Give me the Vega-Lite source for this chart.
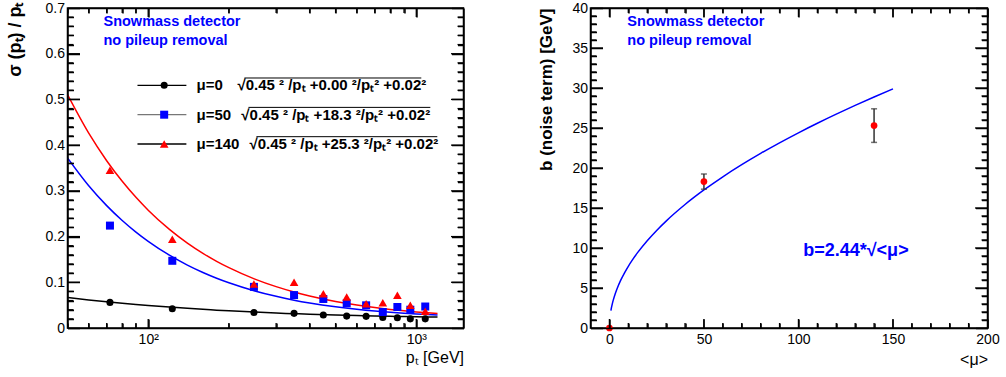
{
  "$schema": "https://vega.github.io/schema/vega-lite/v6.json",
  "background": "white",
  "padding": {"left": 5.5, "top": 0, "right": 0, "bottom": 0},
  "spacing": 71,
  "datasets": {
    "left_points": [
      {"pt": 72, "v": 0.056, "mu": "0"}, {"pt": 123, "v": 0.042, "mu": "0"}, {"pt": 248, "v": 0.034, "mu": "0"},
      {"pt": 350, "v": 0.032, "mu": "0"}, {"pt": 450, "v": 0.0285, "mu": "0"}, {"pt": 550, "v": 0.026, "mu": "0"},
      {"pt": 650, "v": 0.0255, "mu": "0"}, {"pt": 750, "v": 0.023, "mu": "0"}, {"pt": 850, "v": 0.0225, "mu": "0"},
      {"pt": 950, "v": 0.02, "mu": "0"}, {"pt": 1080, "v": 0.02, "mu": "0"},
      {"pt": 72, "v": 0.224, "mu": "50"}, {"pt": 123, "v": 0.147, "mu": "50"}, {"pt": 248, "v": 0.09, "mu": "50"},
      {"pt": 350, "v": 0.072, "mu": "50"}, {"pt": 450, "v": 0.0635, "mu": "50"}, {"pt": 550, "v": 0.054, "mu": "50"},
      {"pt": 650, "v": 0.0496, "mu": "50"}, {"pt": 750, "v": 0.035, "mu": "50"}, {"pt": 850, "v": 0.046, "mu": "50"},
      {"pt": 950, "v": 0.04, "mu": "50"}, {"pt": 1080, "v": 0.047, "mu": "50"},
      {"pt": 72, "v": 0.345, "mu": "140"}, {"pt": 123, "v": 0.194, "mu": "140"}, {"pt": 248, "v": 0.096, "mu": "140"},
      {"pt": 350, "v": 0.1, "mu": "140"}, {"pt": 450, "v": 0.075, "mu": "140"}, {"pt": 550, "v": 0.068, "mu": "140"},
      {"pt": 650, "v": 0.053, "mu": "140"}, {"pt": 750, "v": 0.055, "mu": "140"}, {"pt": 850, "v": 0.0715, "mu": "140"},
      {"pt": 950, "v": 0.0496, "mu": "140"}, {"pt": 1080, "v": 0.0365, "mu": "140"}
    ],
    "left_curves": [
      {"pt": 50, "v": 0.06671, "mu": "0"}, {"pt": 60, "v": 0.06144, "mu": "0"}, {"pt": 70, "v": 0.05738, "mu": "0"},
      {"pt": 80, "v": 0.05414, "mu": "0"}, {"pt": 90, "v": 0.05148, "mu": "0"}, {"pt": 100, "v": 0.04924, "mu": "0"},
      {"pt": 120, "v": 0.04569, "mu": "0"}, {"pt": 140, "v": 0.04297, "mu": "0"}, {"pt": 160, "v": 0.04081, "mu": "0"},
      {"pt": 180, "v": 0.03905, "mu": "0"}, {"pt": 200, "v": 0.03758, "mu": "0"}, {"pt": 250, "v": 0.03479, "mu": "0"},
      {"pt": 300, "v": 0.03279, "mu": "0"}, {"pt": 350, "v": 0.03128, "mu": "0"}, {"pt": 400, "v": 0.0301, "mu": "0"},
      {"pt": 500, "v": 0.02837, "mu": "0"}, {"pt": 600, "v": 0.02716, "mu": "0"}, {"pt": 700, "v": 0.02625, "mu": "0"},
      {"pt": 800, "v": 0.02556, "mu": "0"}, {"pt": 900, "v": 0.025, "mu": "0"}, {"pt": 1000, "v": 0.02455, "mu": "0"},
      {"pt": 1100, "v": 0.02417, "mu": "0"}, {"pt": 1200, "v": 0.02385, "mu": "0"},
      {"pt": 50, "v": 0.37203, "mu": "50"}, {"pt": 60, "v": 0.31113, "mu": "50"}, {"pt": 70, "v": 0.26765, "mu": "50"},
      {"pt": 80, "v": 0.23507, "mu": "50"}, {"pt": 90, "v": 0.20975, "mu": "50"}, {"pt": 100, "v": 0.18951, "mu": "50"},
      {"pt": 120, "v": 0.1592, "mu": "50"}, {"pt": 140, "v": 0.1376, "mu": "50"}, {"pt": 160, "v": 0.12144, "mu": "50"},
      {"pt": 180, "v": 0.10891, "mu": "50"}, {"pt": 200, "v": 0.09892, "mu": "50"}, {"pt": 250, "v": 0.08104, "mu": "50"},
      {"pt": 300, "v": 0.06925, "mu": "50"}, {"pt": 350, "v": 0.06093, "mu": "50"}, {"pt": 400, "v": 0.05477, "mu": "50"},
      {"pt": 500, "v": 0.04631, "mu": "50"}, {"pt": 600, "v": 0.04084, "mu": "50"}, {"pt": 700, "v": 0.03705, "mu": "50"},
      {"pt": 800, "v": 0.0343, "mu": "50"}, {"pt": 900, "v": 0.03222, "mu": "50"}, {"pt": 1000, "v": 0.03062, "mu": "50"},
      {"pt": 1100, "v": 0.02934, "mu": "50"}, {"pt": 1200, "v": 0.02831, "mu": "50"},
      {"pt": 50, "v": 0.51038, "mu": "140"}, {"pt": 60, "v": 0.42612, "mu": "140"}, {"pt": 70, "v": 0.36596, "mu": "140"},
      {"pt": 80, "v": 0.32085, "mu": "140"}, {"pt": 90, "v": 0.28579, "mu": "140"}, {"pt": 100, "v": 0.25775, "mu": "140"},
      {"pt": 120, "v": 0.21573, "mu": "140"}, {"pt": 140, "v": 0.18575, "mu": "140"}, {"pt": 160, "v": 0.16331, "mu": "140"},
      {"pt": 180, "v": 0.14588, "mu": "140"}, {"pt": 200, "v": 0.13196, "mu": "140"}, {"pt": 250, "v": 0.10701, "mu": "140"},
      {"pt": 300, "v": 0.09048, "mu": "140"}, {"pt": 350, "v": 0.07876, "mu": "140"}, {"pt": 400, "v": 0.07005, "mu": "140"},
      {"pt": 500, "v": 0.05801, "mu": "140"}, {"pt": 600, "v": 0.05015, "mu": "140"}, {"pt": 700, "v": 0.04467, "mu": "140"},
      {"pt": 800, "v": 0.04066, "mu": "140"}, {"pt": 900, "v": 0.03762, "mu": "140"}, {"pt": 1000, "v": 0.03525, "mu": "140"},
      {"pt": 1100, "v": 0.03336, "mu": "140"}, {"pt": 1200, "v": 0.03183, "mu": "140"}
    ],
    "left_xt": [
      {"t": 60, "major": false}, {"t": 70, "major": false}, {"t": 80, "major": false}, {"t": 90, "major": false},
      {"t": 100, "major": true}, {"t": 200, "major": false}, {"t": 300, "major": false}, {"t": 400, "major": false},
      {"t": 500, "major": false}, {"t": 600, "major": false}, {"t": 700, "major": false}, {"t": 800, "major": false},
      {"t": 900, "major": false}, {"t": 1000, "major": true}
    ],
    "left_yt": [
      {"t": 0.02, "major": false}, {"t": 0.04, "major": false}, {"t": 0.06, "major": false}, {"t": 0.08, "major": false}, {"t": 0.1, "major": true},
      {"t": 0.12, "major": false}, {"t": 0.14, "major": false}, {"t": 0.16, "major": false}, {"t": 0.18, "major": false}, {"t": 0.2, "major": true},
      {"t": 0.22, "major": false}, {"t": 0.24, "major": false}, {"t": 0.26, "major": false}, {"t": 0.28, "major": false}, {"t": 0.3, "major": true},
      {"t": 0.32, "major": false}, {"t": 0.34, "major": false}, {"t": 0.36, "major": false}, {"t": 0.38, "major": false}, {"t": 0.4, "major": true},
      {"t": 0.42, "major": false}, {"t": 0.44, "major": false}, {"t": 0.46, "major": false}, {"t": 0.48, "major": false}, {"t": 0.5, "major": true},
      {"t": 0.52, "major": false}, {"t": 0.54, "major": false}, {"t": 0.56, "major": false}, {"t": 0.58, "major": false}, {"t": 0.6, "major": true},
      {"t": 0.62, "major": false}, {"t": 0.64, "major": false}, {"t": 0.66, "major": false}, {"t": 0.68, "major": false}
    ],
    "right_xt": [
      {"t": 0, "major": true}, {"t": 10, "major": false}, {"t": 20, "major": false}, {"t": 30, "major": false}, {"t": 40, "major": false},
      {"t": 50, "major": true}, {"t": 60, "major": false}, {"t": 70, "major": false}, {"t": 80, "major": false}, {"t": 90, "major": false},
      {"t": 100, "major": true}, {"t": 110, "major": false}, {"t": 120, "major": false}, {"t": 130, "major": false}, {"t": 140, "major": false},
      {"t": 150, "major": true}, {"t": 160, "major": false}, {"t": 170, "major": false}, {"t": 180, "major": false}, {"t": 190, "major": false}
    ],
    "right_yt": [
      {"t": 1, "major": false}, {"t": 2, "major": false}, {"t": 3, "major": false}, {"t": 4, "major": false}, {"t": 5, "major": true},
      {"t": 6, "major": false}, {"t": 7, "major": false}, {"t": 8, "major": false}, {"t": 9, "major": false}, {"t": 10, "major": true},
      {"t": 11, "major": false}, {"t": 12, "major": false}, {"t": 13, "major": false}, {"t": 14, "major": false}, {"t": 15, "major": true},
      {"t": 16, "major": false}, {"t": 17, "major": false}, {"t": 18, "major": false}, {"t": 19, "major": false}, {"t": 20, "major": true},
      {"t": 21, "major": false}, {"t": 22, "major": false}, {"t": 23, "major": false}, {"t": 24, "major": false}, {"t": 25, "major": true},
      {"t": 26, "major": false}, {"t": 27, "major": false}, {"t": 28, "major": false}, {"t": 29, "major": false}, {"t": 30, "major": true},
      {"t": 31, "major": false}, {"t": 32, "major": false}, {"t": 33, "major": false}, {"t": 34, "major": false}, {"t": 35, "major": true},
      {"t": 36, "major": false}, {"t": 37, "major": false}, {"t": 38, "major": false}, {"t": 39, "major": false}
    ],
    "right_points": [
      {"mu": 0, "b": 0, "err": 0},
      {"mu": 50, "b": 18.3, "err": 0.95},
      {"mu": 140, "b": 25.3, "err": 2.1}
    ],
    "right_curve": [
      {"mu": 0.8, "b": 2.182}, {"mu": 1, "b": 2.44}, {"mu": 1.5, "b": 2.988}, {"mu": 2, "b": 3.451},
      {"mu": 3, "b": 4.226}, {"mu": 4, "b": 4.88}, {"mu": 6, "b": 5.977}, {"mu": 8, "b": 6.901},
      {"mu": 10, "b": 7.716}, {"mu": 12, "b": 8.452}, {"mu": 15, "b": 9.45}, {"mu": 20, "b": 10.912},
      {"mu": 25, "b": 12.2}, {"mu": 30, "b": 13.364}, {"mu": 40, "b": 15.432}, {"mu": 50, "b": 17.253},
      {"mu": 60, "b": 18.9}, {"mu": 70, "b": 20.414}, {"mu": 80, "b": 21.824}, {"mu": 90, "b": 23.148},
      {"mu": 100, "b": 24.4}, {"mu": 110, "b": 25.591}, {"mu": 120, "b": 26.729}, {"mu": 130, "b": 27.82},
      {"mu": 140, "b": 28.87}, {"mu": 150, "b": 29.884}
    ]
  },
  "hconcat": [
    {
      "width": 396,
      "height": 320,
      "layer": [
        {
          "data": {"name": "left_curves"},
          "mark": {"type": "line", "strokeWidth": 1.5, "interpolate": "monotone", "clip": true},
          "encoding": {
            "x": {
              "field": "pt", "type": "quantitative",
              "scale": {"type": "log", "domain": [50, 1500], "nice": false},
              "axis": {
                "orient": "bottom", "domain": true, "ticks": true, "zindex": 1,
                "domainColor": "#000000", "domainWidth": 1.5, "tickColor": "#000000", "tickWidth": 1.5,
                "values": [50, 60, 70, 80, 90, 100, 200, 300, 400, 500, 600, 700, 800, 900, 1000],
                "labelExpr": "datum.value == 100 ? '10²' : datum.value == 1000 ? '10³' : ''",
                "tickSize": {"condition": {"test": "datum.value == 100 || datum.value == 1000", "value": -9}, "value": -5},
                "labelPadding": 13,
                "title": "pₜ [GeV]",
                "titleX": 396, "titleY": 34, "titleAlign": "right", "titleBaseline": "alphabetic",
                "titleFontSize": 16, "titleFontWeight": "normal"
              }
            },
            "y": {
              "field": "v", "type": "quantitative",
              "scale": {"domain": [0, 0.7], "nice": false, "zero": false},
              "axis": {
                "orient": "left", "domain": true, "ticks": true, "zindex": 1,
                "domainColor": "#000000", "domainWidth": 1.5, "tickColor": "#000000", "tickWidth": 1.5,
                "values": [0, 0.02, 0.04, 0.06, 0.08, 0.1, 0.12, 0.14, 0.16, 0.18, 0.2, 0.22, 0.24, 0.26, 0.28, 0.3, 0.32, 0.34, 0.36, 0.38, 0.4, 0.42, 0.44, 0.46, 0.48, 0.5, 0.52, 0.54, 0.56, 0.58, 0.6, 0.62, 0.64, 0.66, 0.68, 0.7],
                "labelExpr": "abs(datum.value*10 - round(datum.value*10)) < 0.001 ? format(datum.value, '~g') : ''",
                "tickSize": {"condition": {"test": "abs(datum.value*10 - round(datum.value*10)) < 0.001", "value": -12}, "value": -6},
                "labelPadding": 15,
                "title": "σ (pₜ) / pₜ",
                "titleX": -52, "titleY": -6, "titleAngle": -90, "titleAlign": "right", "titleBaseline": "middle",
                "titleFontSize": 18, "titleFontWeight": "bold"
              }
            },
            "color": {
              "field": "mu", "type": "nominal",
              "scale": {"domain": ["0", "50", "140"], "range": ["#000000", "#0000ff", "#ff0000"]},
              "legend": null
            }
          }
        },
        {
          "data": {"name": "left_points"},
          "transform": [{"filter": "datum.mu == '0'"}],
          "mark": {"type": "point", "shape": "circle", "filled": true, "size": 50, "opacity": 1, "color": "#000000"},
          "encoding": {
            "x": {
              "field": "pt", "type": "quantitative",
              "axis": {
                "orient": "top", "labels": false, "title": null, "domain": true, "ticks": true, "zindex": 1,
                "domainColor": "#000000", "domainWidth": 1.5, "tickColor": "#000000", "tickWidth": 1.5,
                "values": [50, 60, 70, 80, 90, 100, 200, 300, 400, 500, 600, 700, 800, 900, 1000],
                "tickSize": {"condition": {"test": "datum.value == 100 || datum.value == 1000", "value": -9}, "value": -5}
              }
            },
            "y": {
              "field": "v", "type": "quantitative",
              "axis": {
                "orient": "right", "labels": false, "title": null, "domain": true, "ticks": true, "zindex": 1,
                "domainColor": "#000000", "domainWidth": 1.5, "tickColor": "#000000", "tickWidth": 1.5,
                "values": [0, 0.02, 0.04, 0.06, 0.08, 0.1, 0.12, 0.14, 0.16, 0.18, 0.2, 0.22, 0.24, 0.26, 0.28, 0.3, 0.32, 0.34, 0.36, 0.38, 0.4, 0.42, 0.44, 0.46, 0.48, 0.5, 0.52, 0.54, 0.56, 0.58, 0.6, 0.62, 0.64, 0.66, 0.68, 0.7],
                "tickSize": {"condition": {"test": "abs(datum.value*10 - round(datum.value*10)) < 0.001", "value": -12}, "value": -6}
              }
            }
          }
        },
        {
          "data": {"name": "left_points"},
          "transform": [{"filter": "datum.mu == '50'"}],
          "mark": {"type": "point", "shape": "square", "filled": true, "size": 64, "opacity": 1, "color": "#0000ff"},
          "encoding": {
            "x": {"field": "pt", "type": "quantitative", "axis": null},
            "y": {"field": "v", "type": "quantitative", "axis": null}
          }
        },
        {
          "data": {"name": "left_points"},
          "transform": [{"filter": "datum.mu == '140'"}],
          "mark": {"type": "point", "shape": "triangle-up", "filled": true, "size": 75, "opacity": 1, "color": "#ff0000"},
          "encoding": {
            "x": {"field": "pt", "type": "quantitative", "axis": null},
            "y": {"field": "v", "type": "quantitative", "axis": null}
          }
        },
        {
          "data": {"values": [{}]},
          "mark": {"type": "rule", "color": "#000000", "strokeWidth": 1.3},
          "encoding": {
            "x": {"datum": 91.2, "type": "quantitative", "axis": null},
            "x2": {"datum": 138.8},
            "y": {"datum": 0.5309, "type": "quantitative", "axis": null}
          }
        },
        {
          "data": {"values": [{}]},
          "mark": {"type": "rule", "color": "#777777", "strokeWidth": 1.3},
          "encoding": {
            "x": {"datum": 91.2, "type": "quantitative", "axis": null},
            "x2": {"datum": 138.8},
            "y": {"datum": 0.4666, "type": "quantitative", "axis": null}
          }
        },
        {
          "data": {"values": [{}]},
          "mark": {"type": "rule", "color": "#000000", "strokeWidth": 1.3},
          "encoding": {
            "x": {"datum": 91.2, "type": "quantitative", "axis": null},
            "x2": {"datum": 138.8},
            "y": {"datum": 0.4025, "type": "quantitative", "axis": null}
          }
        },
        {
          "data": {"values": [{}]},
          "mark": {"type": "point", "shape": "circle", "filled": true, "size": 50, "opacity": 1, "color": "#000000"},
          "encoding": {
            "x": {"datum": 114.7, "type": "quantitative", "axis": null},
            "y": {"datum": 0.5309, "type": "quantitative", "axis": null}
          }
        },
        {
          "data": {"values": [{}]},
          "mark": {"type": "point", "shape": "square", "filled": true, "size": 64, "opacity": 1, "color": "#0000ff"},
          "encoding": {
            "x": {"datum": 114.7, "type": "quantitative", "axis": null},
            "y": {"datum": 0.4666, "type": "quantitative", "axis": null}
          }
        },
        {
          "data": {"values": [{}]},
          "mark": {"type": "point", "shape": "triangle-up", "filled": true, "size": 75, "opacity": 1, "color": "#ff0000"},
          "encoding": {
            "x": {"datum": 114.7, "type": "quantitative", "axis": null},
            "y": {"datum": 0.4025, "type": "quantitative", "axis": null}
          }
        },
        {
          "data": {"values": [{}]},
          "mark": {"type": "text", "align": "left", "baseline": "middle", "font": "Liberation Sans", "fontSize": 15, "fontWeight": "bold", "color": "#000000", "text": "μ=0"},
          "encoding": {
            "x": {"datum": 151.4, "type": "quantitative", "axis": null},
            "y": {"datum": 0.5309, "type": "quantitative", "axis": null}
          }
        },
        {
          "data": {"values": [{}]},
          "mark": {"type": "text", "align": "left", "baseline": "middle", "font": "Liberation Sans", "fontSize": 15, "fontWeight": "bold", "color": "#000000", "text": "μ=50"},
          "encoding": {
            "x": {"datum": 151.4, "type": "quantitative", "axis": null},
            "y": {"datum": 0.4666, "type": "quantitative", "axis": null}
          }
        },
        {
          "data": {"values": [{}]},
          "mark": {"type": "text", "align": "left", "baseline": "middle", "font": "Liberation Sans", "fontSize": 15, "fontWeight": "bold", "color": "#000000", "text": "μ=140"},
          "encoding": {
            "x": {"datum": 151.4, "type": "quantitative", "axis": null},
            "y": {"datum": 0.4025, "type": "quantitative", "axis": null}
          }
        },
        {
          "data": {"values": [{}]},
          "mark": {"type": "text", "align": "left", "baseline": "middle", "font": "Liberation Sans", "fontSize": 15, "fontWeight": "bold", "color": "#000000", "text": "√0.45 ² /pₜ +0.00 ²/pₜ² +0.02²"},
          "encoding": {
            "x": {"datum": 215.2, "type": "quantitative", "axis": null},
            "y": {"datum": 0.5309, "type": "quantitative", "axis": null}
          }
        },
        {
          "data": {"values": [{}]},
          "mark": {"type": "text", "align": "left", "baseline": "middle", "font": "Liberation Sans", "fontSize": 15, "fontWeight": "bold", "color": "#000000", "text": "√0.45 ² /pₜ +18.3 ²/pₜ² +0.02²"},
          "encoding": {
            "x": {"datum": 222.6, "type": "quantitative", "axis": null},
            "y": {"datum": 0.4666, "type": "quantitative", "axis": null}
          }
        },
        {
          "data": {"values": [{}]},
          "mark": {"type": "text", "align": "left", "baseline": "middle", "font": "Liberation Sans", "fontSize": 15, "fontWeight": "bold", "color": "#000000", "text": "√0.45 ² /pₜ +25.3 ²/pₜ² +0.02²"},
          "encoding": {
            "x": {"datum": 238.6, "type": "quantitative", "axis": null},
            "y": {"datum": 0.4025, "type": "quantitative", "axis": null}
          }
        },
        {
          "data": {"values": [{}]},
          "mark": {"type": "rule", "color": "#000000", "strokeWidth": 1},
          "encoding": {
            "x": {"datum": 228.5, "type": "quantitative", "axis": null},
            "x2": {"datum": 1044},
            "y": {"datum": 0.5469, "type": "quantitative", "axis": null}
          }
        },
        {
          "data": {"values": [{}]},
          "mark": {"type": "rule", "color": "#000000", "strokeWidth": 1},
          "encoding": {
            "x": {"datum": 236.5, "type": "quantitative", "axis": null},
            "x2": {"datum": 1128},
            "y": {"datum": 0.4826, "type": "quantitative", "axis": null}
          }
        },
        {
          "data": {"values": [{}]},
          "mark": {"type": "rule", "color": "#000000", "strokeWidth": 1},
          "encoding": {
            "x": {"datum": 253.3, "type": "quantitative", "axis": null},
            "x2": {"datum": 1198},
            "y": {"datum": 0.4185, "type": "quantitative", "axis": null}
          }
        },
        {
          "data": {"values": [{}]},
          "mark": {"type": "text", "align": "left", "baseline": "alphabetic", "font": "Liberation Sans", "fontSize": 14.5, "fontWeight": "bold", "color": "#0000ff", "lineHeight": 19, "text": ["Snowmass detector", "no pileup removal"]},
          "encoding": {
            "x": {"datum": 68.1, "type": "quantitative", "axis": null},
            "y": {"datum": 0.6597, "type": "quantitative", "axis": null}
          }
        },
        {
          "data": {"name": "left_xt"},
          "transform": [{"filter": "datum.major"}],
          "mark": {"type": "rule", "color": "#000000", "strokeWidth": 1.3},
          "encoding": {
            "x": {"field": "t", "type": "quantitative", "axis": null},
            "y": {"datum": 0, "type": "quantitative", "axis": null},
            "y2": {"datum": 0.0197}
          }
        },
        {
          "data": {"name": "left_xt"},
          "transform": [{"filter": "!datum.major"}],
          "mark": {"type": "rule", "color": "#000000", "strokeWidth": 1.3},
          "encoding": {
            "x": {"field": "t", "type": "quantitative", "axis": null},
            "y": {"datum": 0, "type": "quantitative", "axis": null},
            "y2": {"datum": 0.0109}
          }
        },
        {
          "data": {"name": "left_xt"},
          "transform": [{"filter": "datum.major"}],
          "mark": {"type": "rule", "color": "#000000", "strokeWidth": 1.3},
          "encoding": {
            "x": {"field": "t", "type": "quantitative", "axis": null},
            "y": {"datum": 0.7, "type": "quantitative", "axis": null},
            "y2": {"datum": 0.6803}
          }
        },
        {
          "data": {"name": "left_xt"},
          "transform": [{"filter": "!datum.major"}],
          "mark": {"type": "rule", "color": "#000000", "strokeWidth": 1.3},
          "encoding": {
            "x": {"field": "t", "type": "quantitative", "axis": null},
            "y": {"datum": 0.7, "type": "quantitative", "axis": null},
            "y2": {"datum": 0.6891}
          }
        },
        {
          "data": {"name": "left_yt"},
          "transform": [{"filter": "datum.major"}],
          "mark": {"type": "rule", "color": "#000000", "strokeWidth": 1.3},
          "encoding": {
            "y": {"field": "t", "type": "quantitative", "axis": null},
            "x": {"datum": 50, "type": "quantitative", "axis": null},
            "x2": {"datum": 55.66}
          }
        },
        {
          "data": {"name": "left_yt"},
          "transform": [{"filter": "!datum.major"}],
          "mark": {"type": "rule", "color": "#000000", "strokeWidth": 1.3},
          "encoding": {
            "y": {"field": "t", "type": "quantitative", "axis": null},
            "x": {"datum": 50, "type": "quantitative", "axis": null},
            "x2": {"datum": 52.64}
          }
        },
        {
          "data": {"name": "left_yt"},
          "transform": [{"filter": "datum.major"}],
          "mark": {"type": "rule", "color": "#000000", "strokeWidth": 1.3},
          "encoding": {
            "y": {"field": "t", "type": "quantitative", "axis": null},
            "x": {"datum": 1500, "type": "quantitative", "axis": null},
            "x2": {"datum": 1347.5}
          }
        },
        {
          "data": {"name": "left_yt"},
          "transform": [{"filter": "!datum.major"}],
          "mark": {"type": "rule", "color": "#000000", "strokeWidth": 1.3},
          "encoding": {
            "y": {"field": "t", "type": "quantitative", "axis": null},
            "x": {"datum": 1500, "type": "quantitative", "axis": null},
            "x2": {"datum": 1424.6}
          }
        }
      ]
    },
    {
      "width": 397,
      "height": 320,
      "layer": [
        {
          "data": {"name": "right_curve"},
          "mark": {"type": "line", "strokeWidth": 1.5, "interpolate": "monotone", "color": "#0000ff", "clip": true},
          "encoding": {
            "x": {
              "field": "mu", "type": "quantitative",
              "scale": {"domain": [-10, 200], "nice": false, "zero": false},
              "axis": {
                "orient": "bottom", "domain": true, "ticks": true, "zindex": 1,
                "domainColor": "#000000", "domainWidth": 1.5, "tickColor": "#000000", "tickWidth": 1.5,
                "values": [0, 10, 20, 30, 40, 50, 60, 70, 80, 90, 100, 110, 120, 130, 140, 150, 160, 170, 180, 190, 200],
                "labelExpr": "datum.value % 50 == 0 ? datum.value + '' : ''",
                "tickSize": {"condition": {"test": "datum.value % 50 == 0", "value": -9}, "value": -5},
                "labelPadding": 13,
                "title": "<μ>",
                "titleX": 397, "titleY": 36, "titleAlign": "right", "titleBaseline": "alphabetic",
                "titleFontSize": 16, "titleFontWeight": "normal"
              }
            },
            "y": {
              "field": "b", "type": "quantitative",
              "scale": {"domain": [0, 40], "nice": false},
              "axis": {
                "orient": "left", "domain": true, "ticks": true, "zindex": 1,
                "domainColor": "#000000", "domainWidth": 1.5, "tickColor": "#000000", "tickWidth": 1.5,
                "values": [0, 1, 2, 3, 4, 5, 6, 7, 8, 9, 10, 11, 12, 13, 14, 15, 16, 17, 18, 19, 20, 21, 22, 23, 24, 25, 26, 27, 28, 29, 30, 31, 32, 33, 34, 35, 36, 37, 38, 39, 40],
                "labelExpr": "datum.value % 5 == 0 ? datum.value + '' : ''",
                "tickSize": {"condition": {"test": "datum.value % 5 == 0", "value": -12}, "value": -6},
                "labelPadding": 15,
                "title": "b (noise term) [GeV]",
                "titleX": -44, "titleY": 0, "titleAngle": -90, "titleAlign": "right", "titleBaseline": "middle",
                "titleFontSize": 17, "titleFontWeight": "bold"
              }
            }
          }
        },
        {
          "data": {"name": "right_points"},
          "transform": [{"filter": "datum.err > 0"}],
          "mark": {"type": "errorbar", "ticks": {"size": 6}, "thickness": 1.5, "color": "#333333"},
          "encoding": {
            "x": {"field": "mu", "type": "quantitative", "axis": null},
            "y": {"field": "b", "type": "quantitative", "axis": null},
            "yError": {"field": "err"}
          }
        },
        {
          "data": {"name": "right_points"},
          "mark": {"type": "point", "shape": "circle", "filled": true, "size": 45, "opacity": 1, "color": "#ff0000"},
          "encoding": {
            "x": {
              "field": "mu", "type": "quantitative",
              "axis": {
                "orient": "top", "labels": false, "title": null, "domain": true, "ticks": true, "zindex": 1,
                "domainColor": "#000000", "domainWidth": 1.5, "tickColor": "#000000", "tickWidth": 1.5,
                "values": [0, 10, 20, 30, 40, 50, 60, 70, 80, 90, 100, 110, 120, 130, 140, 150, 160, 170, 180, 190, 200],
                "tickSize": {"condition": {"test": "datum.value % 50 == 0", "value": -9}, "value": -5}
              }
            },
            "y": {
              "field": "b", "type": "quantitative",
              "axis": {
                "orient": "right", "labels": false, "title": null, "domain": true, "ticks": true, "zindex": 1,
                "domainColor": "#000000", "domainWidth": 1.5, "tickColor": "#000000", "tickWidth": 1.5,
                "values": [0, 1, 2, 3, 4, 5, 6, 7, 8, 9, 10, 11, 12, 13, 14, 15, 16, 17, 18, 19, 20, 21, 22, 23, 24, 25, 26, 27, 28, 29, 30, 31, 32, 33, 34, 35, 36, 37, 38, 39, 40],
                "tickSize": {"condition": {"test": "datum.value % 5 == 0", "value": -12}, "value": -6}
              }
            }
          }
        },
        {
          "data": {"values": [{}]},
          "mark": {"type": "text", "align": "left", "baseline": "alphabetic", "font": "Liberation Sans", "fontSize": 14.5, "fontWeight": "bold", "color": "#0000ff", "lineHeight": 19, "text": ["Snowmass detector", "no pileup removal"]},
          "encoding": {
            "x": {"datum": 9.5, "type": "quantitative", "axis": null},
            "y": {"datum": 37.7, "type": "quantitative", "axis": null}
          }
        },
        {
          "data": {"values": [{}]},
          "mark": {"type": "text", "align": "left", "baseline": "alphabetic", "font": "Liberation Sans", "fontSize": 18, "fontWeight": "bold", "color": "#0000ff", "text": "b=2.44*√<μ>"},
          "encoding": {
            "x": {"datum": 102.5, "type": "quantitative", "axis": null},
            "y": {"datum": 9.0, "type": "quantitative", "axis": null}
          }
        },
        {
          "data": {"name": "right_xt"},
          "transform": [{"filter": "datum.major"}],
          "mark": {"type": "rule", "color": "#000000", "strokeWidth": 1.3},
          "encoding": {
            "x": {"field": "t", "type": "quantitative", "axis": null},
            "y": {"datum": 0, "type": "quantitative", "axis": null},
            "y2": {"datum": 1.125}
          }
        },
        {
          "data": {"name": "right_xt"},
          "transform": [{"filter": "!datum.major"}],
          "mark": {"type": "rule", "color": "#000000", "strokeWidth": 1.3},
          "encoding": {
            "x": {"field": "t", "type": "quantitative", "axis": null},
            "y": {"datum": 0, "type": "quantitative", "axis": null},
            "y2": {"datum": 0.625}
          }
        },
        {
          "data": {"name": "right_xt"},
          "transform": [{"filter": "datum.major"}],
          "mark": {"type": "rule", "color": "#000000", "strokeWidth": 1.3},
          "encoding": {
            "x": {"field": "t", "type": "quantitative", "axis": null},
            "y": {"datum": 40, "type": "quantitative", "axis": null},
            "y2": {"datum": 38.875}
          }
        },
        {
          "data": {"name": "right_xt"},
          "transform": [{"filter": "!datum.major"}],
          "mark": {"type": "rule", "color": "#000000", "strokeWidth": 1.3},
          "encoding": {
            "x": {"field": "t", "type": "quantitative", "axis": null},
            "y": {"datum": 40, "type": "quantitative", "axis": null},
            "y2": {"datum": 39.375}
          }
        },
        {
          "data": {"name": "right_yt"},
          "transform": [{"filter": "datum.major"}],
          "mark": {"type": "rule", "color": "#000000", "strokeWidth": 1.3},
          "encoding": {
            "y": {"field": "t", "type": "quantitative", "axis": null},
            "x": {"datum": -10, "type": "quantitative", "axis": null},
            "x2": {"datum": -3.39}
          }
        },
        {
          "data": {"name": "right_yt"},
          "transform": [{"filter": "!datum.major"}],
          "mark": {"type": "rule", "color": "#000000", "strokeWidth": 1.3},
          "encoding": {
            "y": {"field": "t", "type": "quantitative", "axis": null},
            "x": {"datum": -10, "type": "quantitative", "axis": null},
            "x2": {"datum": -6.83}
          }
        },
        {
          "data": {"name": "right_yt"},
          "transform": [{"filter": "datum.major"}],
          "mark": {"type": "rule", "color": "#000000", "strokeWidth": 1.3},
          "encoding": {
            "y": {"field": "t", "type": "quantitative", "axis": null},
            "x": {"datum": 200, "type": "quantitative", "axis": null},
            "x2": {"datum": 193.39}
          }
        },
        {
          "data": {"name": "right_yt"},
          "transform": [{"filter": "!datum.major"}],
          "mark": {"type": "rule", "color": "#000000", "strokeWidth": 1.3},
          "encoding": {
            "y": {"field": "t", "type": "quantitative", "axis": null},
            "x": {"datum": 200, "type": "quantitative", "axis": null},
            "x2": {"datum": 196.83}
          }
        }
      ]
    }
  ],
  "config": {
    "view": {"stroke": "#000000", "strokeWidth": 1.5},
    "font": "Liberation Sans",
    "axis": {
      "grid": false,
      "labelColor": "black", "labelFont": "Liberation Sans", "labelFontSize": 14,
      "titleFont": "Liberation Sans", "titleColor": "black",
      "labelFlush": false, "labelOverlap": false
    }
  }
}
